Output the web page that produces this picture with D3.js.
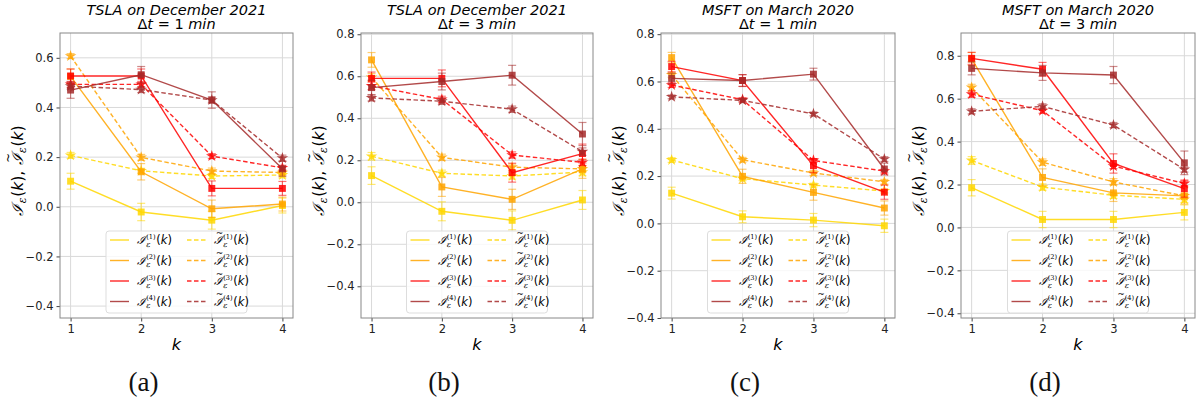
<!DOCTYPE html>
<html><head><meta charset="utf-8">
<script src="https://cdn.jsdelivr.net/npm/d3@7"></script>
<style>body{margin:0;background:#fff}svg{display:block}</style>
</head><body>
<svg id="c" width="1198" height="403"></svg>
<script>
// ---------------- data ----------------
const kValues = [1, 2, 3, 4];
const panelTitles = ["TSLA on December 2021", "TSLA on December 2021", "MSFT on March 2020", "MSFT on March 2020"];
const panelDt = ["1", "3", "1", "3"];
const panelLetters = ["(a)", "(b)", "(c)", "(d)"];
const yTicksA = [-0.4, -0.2, 0.0, 0.2, 0.4, 0.6];
const yTicksB = [-0.4, -0.2, 0.0, 0.2, 0.4, 0.6, 0.8];
const yTicksC = [-0.4, -0.2, 0.0, 0.2, 0.4, 0.6, 0.8];
const yTicksD = [-0.4, -0.2, 0.0, 0.2, 0.4, 0.6, 0.8];
const seriesColors = ["#FFD700", "#FFA500", "#FF0000", "#A52A2A"];

// I_eps^(j)(k), rows j=1..4, columns k=1..4
const tslaDt1_I = [[0.103, -0.021, -0.054, 0.005], [0.525, 0.141, -0.008, 0.011], [0.527, 0.527, 0.074, 0.074], [0.470, 0.532, 0.430, 0.153]];
const tslaDt1_T = [[0.207, 0.145, 0.124, 0.128], [0.607, 0.199, 0.144, 0.138], [0.493, 0.493, 0.204, 0.157], [0.486, 0.472, 0.430, 0.196]];
const tslaDt1_Ierr = [[0.032, 0.035, 0.036, 0.030], [0.030, 0.033, 0.035, 0.028], [0.028, 0.028, 0.030, 0.028], [0.033, 0.033, 0.033, 0.030]];
const tslaDt1_Terr = [[0.012, 0.010, 0.010, 0.012], [0.010, 0.012, 0.012, 0.010], [0.012, 0.012, 0.010, 0.010], [0.012, 0.012, 0.012, 0.012]];

const tslaDt3_I = [[0.127, -0.043, -0.086, 0.011], [0.678, 0.073, 0.014, 0.159], [0.590, 0.590, 0.141, 0.232], [0.546, 0.575, 0.605, 0.325]];
const tslaDt3_T = [[0.219, 0.138, 0.125, 0.144], [0.595, 0.214, 0.167, 0.159], [0.554, 0.490, 0.225, 0.190], [0.497, 0.481, 0.443, 0.241]];
const tslaDt3_Ierr = [[0.042, 0.045, 0.045, 0.045], [0.035, 0.045, 0.048, 0.045], [0.030, 0.040, 0.045, 0.045], [0.035, 0.040, 0.047, 0.055]];
const tslaDt3_Terr = [[0.018, 0.015, 0.015, 0.018], [0.018, 0.015, 0.015, 0.015], [0.018, 0.015, 0.015, 0.015], [0.015, 0.015, 0.015, 0.018]];

const msftDt1_I = [[0.128, 0.028, 0.014, -0.010], [0.701, 0.199, 0.131, 0.065], [0.663, 0.604, 0.244, 0.132], [0.613, 0.604, 0.631, 0.230]];
const msftDt1_T = [[0.268, 0.189, 0.162, 0.137], [0.628, 0.269, 0.213, 0.176], [0.585, 0.523, 0.266, 0.221], [0.535, 0.520, 0.463, 0.272]];
const msftDt1_Ierr = [[0.025, 0.025, 0.028, 0.028], [0.022, 0.030, 0.033, 0.030], [0.022, 0.025, 0.030, 0.030], [0.022, 0.025, 0.025, 0.025]];
const msftDt1_Terr = [[0.010, 0.008, 0.008, 0.008], [0.010, 0.010, 0.010, 0.010], [0.010, 0.008, 0.008, 0.008], [0.008, 0.008, 0.008, 0.010]];

const msftDt3_I = [[0.185, 0.037, 0.037, 0.070], [0.785, 0.233, 0.161, 0.147], [0.788, 0.737, 0.298, 0.181], [0.741, 0.720, 0.710, 0.301]];
const msftDt3_T = [[0.312, 0.188, 0.150, 0.131], [0.652, 0.304, 0.212, 0.147], [0.621, 0.544, 0.286, 0.205], [0.541, 0.564, 0.477, 0.270]];
const msftDt3_Ierr = [[0.038, 0.038, 0.038, 0.035], [0.030, 0.040, 0.040, 0.038], [0.028, 0.032, 0.045, 0.040], [0.030, 0.035, 0.040, 0.055]];
const msftDt3_Terr = [[0.018, 0.015, 0.015, 0.015], [0.015, 0.015, 0.015, 0.012], [0.015, 0.012, 0.012, 0.012], [0.012, 0.012, 0.012, 0.012]];

// ---------------- layout ----------------
const panels = [
  {I: tslaDt1_I, T: tslaDt1_T, Ie: tslaDt1_Ierr, Te: tslaDt1_Terr, ticks: yTicksA, ydom: [-0.448, 0.70], L: 60, R: 293},
  {I: tslaDt3_I, T: tslaDt3_T, Ie: tslaDt3_Ierr, Te: tslaDt3_Terr, ticks: yTicksB, ydom: [-0.551, 0.806], L: 361, R: 593},
  {I: msftDt1_I, T: msftDt1_T, Ie: msftDt1_Ierr, Te: msftDt1_Terr, ticks: yTicksC, ydom: [-0.400, 0.805], L: 661, R: 895},
  {I: msftDt3_I, T: msftDt3_T, Ie: msftDt3_Ierr, Te: msftDt3_Terr, ticks: yTicksD, ydom: [-0.422, 0.906], L: 961, R: 1195}
];
const TOP = 33, BOT = 318;
const svg = d3.select("#c");
const SANS = "DejaVu Sans";

// draws  I~^(sup)_eps (k)  starting at x, baseline y; returns width
function mathTerm(g, x, y, fs, tilde, sup) {
  let cx = x;
  const I = g.append("text").attr("x", cx).attr("y", y)
    .style("font-family", "DejaVu Serif").style("font-style", "italic").style("font-size", fs + "px").text("ℐ");
  const wI = I.node().getComputedTextLength();
  if (tilde) {
    g.append("text").attr("x", cx + wI * 0.62).attr("y", y - fs * 0.72).attr("text-anchor", "middle")
      .style("font-family", SANS).style("font-size", (fs * 0.75) + "px").text("~");
  }
  cx += wI + fs * 0.02;
  const s = g.append("text").attr("x", cx).attr("y", y + fs * 0.22)
    .style("font-family", "DejaVu Serif").style("font-style", "italic").style("font-size", (fs * 0.68) + "px").text("ε");
  let w2 = s.node().getComputedTextLength();
  if (sup) {
    const p = g.append("text").attr("x", cx).attr("y", y - fs * 0.45)
      .style("font-family", "DejaVu Serif").style("font-size", (fs * 0.58) + "px").text("(" + sup + ")");
    w2 = Math.max(w2, p.node().getComputedTextLength());
  }
  cx += w2 + fs * 0.05;
  const k = g.append("text").attr("x", cx).attr("y", y).style("font-family", SANS).style("font-size", fs + "px");
  k.append("tspan").text("(");
  k.append("tspan").style("font-style", "italic").text("k");
  k.append("tspan").text(")");
  cx += k.node().getComputedTextLength();
  return cx - x;
}

panels.forEach((p, pi) => {
  const x = d3.scaleLinear().domain([0.85, 4.15]).range([p.L, p.R]);
  const y = d3.scaleLinear().domain(p.ydom).range([BOT, TOP]);
  const g = svg.append("g");

  // grid
  g.append("g").selectAll("line").data(kValues).join("line")
    .attr("x1", d => x(d)).attr("x2", d => x(d)).attr("y1", TOP).attr("y2", BOT)
    .attr("stroke", "#d9d9d9").attr("stroke-width", 1);
  g.append("g").selectAll("line").data(p.ticks).join("line")
    .attr("x1", p.L).attr("x2", p.R).attr("y1", d => y(d)).attr("y2", d => y(d))
    .attr("stroke", "#d9d9d9").attr("stroke-width", 1);

  // axes
  const xa = g.append("g").attr("transform", `translate(0,${BOT})`)
    .call(d3.axisBottom(x).tickValues(kValues).tickFormat(d3.format("d")).tickSize(3.5).tickPadding(3));
  const ya = g.append("g").attr("transform", `translate(${p.L},0)`)
    .call(d3.axisLeft(y).tickValues(p.ticks).tickFormat(d => d3.format(".1f")(d).replace("-", "\u2212")).tickSize(3.5).tickPadding(3));
  [xa, ya].forEach(a => {
    a.select(".domain").remove();
    a.selectAll("text").style("font-family", SANS).style("font-size", "11.5px").attr("fill", "#222");
    a.selectAll("line").attr("stroke", "#444");
  });
  g.append("rect").attr("x", p.L).attr("y", TOP).attr("width", p.R - p.L).attr("height", BOT - TOP)
    .attr("fill", "none").attr("stroke", "#888").attr("stroke-width", 1);

  const line = d3.line().x((d, i) => x(kValues[i])).y(d => y(d));
  const plot = g.append("g");

  function drawSeries(vals, errs, color, dashed) {
    const sg = plot.append("g");
    sg.append("path").attr("d", line(vals)).attr("fill", "none").attr("stroke", color)
      .attr("stroke-width", 1.4).attr("stroke-opacity", 0.85).attr("stroke-dasharray", dashed ? "4.5,2.5" : null);
    vals.forEach((v, i) => {
      const cx = x(kValues[i]), e = errs[i];
      const eg = sg.append("g").attr("stroke", color).attr("stroke-opacity", 0.55).attr("stroke-width", 1.2);
      eg.append("line").attr("x1", cx).attr("x2", cx).attr("y1", y(v - e)).attr("y2", y(v + e));
      eg.append("line").attr("x1", cx - 4).attr("x2", cx + 4).attr("y1", y(v - e)).attr("y2", y(v - e));
      eg.append("line").attr("x1", cx - 4).attr("x2", cx + 4).attr("y1", y(v + e)).attr("y2", y(v + e));
    });
    sg.selectAll("path.m").data(vals).join("path").attr("class", "m")
      .attr("transform", (d, i) => `translate(${x(kValues[i])},${y(d)})`)
      .attr("d", d3.symbol().type(dashed ? d3.symbolStar : d3.symbolSquare).size(dashed ? 42 : 48)())
      .attr("fill", color).attr("fill-opacity", 0.85);
  }
  for (let j = 0; j < 4; j++) {
    drawSeries(p.I[j], p.Ie[j], seriesColors[j], false);
    drawSeries(p.T[j], p.Te[j], seriesColors[j], true);
  }

  // titles
  const cxA = (p.L + p.R) / 2;
  g.append("text").attr("x", cxA).attr("y", 15).attr("text-anchor", "middle")
    .style("font-family", SANS).style("font-style", "italic").style("font-size", "14.5px").text(panelTitles[pi]);
  const t2 = g.append("text").attr("x", cxA).attr("y", 29).attr("text-anchor", "middle")
    .style("font-family", SANS).style("font-size", "14.5px");
  t2.append("tspan").text("Δ");
  t2.append("tspan").style("font-style", "italic").text("t");
  t2.append("tspan").text(" = " + panelDt[pi] + " ");
  t2.append("tspan").style("font-style", "italic").text("min");

  // x label
  g.append("text").attr("x", cxA).attr("y", 350).attr("text-anchor", "middle")
    .style("font-family", SANS).style("font-style", "italic").style("font-size", "16px").text("k");

  // y label
  const yl = g.append("g");
  const yfs = 15.5;
  let w = mathTerm(yl, 0, 0, yfs, false, null);
  const c = yl.append("text").attr("x", w).attr("y", 0).style("font-family", SANS).style("font-size", yfs + "px").text(",");
  w += c.node().getComputedTextLength() + yfs * 0.35;
  w += mathTerm(yl, w, 0, yfs, true, null);
  yl.attr("transform", `translate(${p.L - 37},${(TOP + BOT) / 2 - 5 + w / 2}) rotate(-90)`);

  // legend
  const lw = 141, lh = 82;
  const lx = cxA - lw / 2, ly = BOT - 5 - lh;
  const lg = g.append("g").attr("transform", `translate(${lx},${ly})`);
  lg.append("rect").attr("width", lw).attr("height", lh).attr("rx", 3)
    .attr("fill", "#fff").attr("fill-opacity", 0.8).attr("stroke", "#ddd");
  for (let col = 0; col < 2; col++) {
    for (let j = 0; j < 4; j++) {
      const ry = 9 + j * 20.5;
      const hx = col === 0 ? 4 : 81;
      lg.append("line").attr("x1", hx).attr("x2", hx + 19).attr("y1", ry).attr("y2", ry)
        .attr("stroke", seriesColors[j]).attr("stroke-width", 1.4).attr("stroke-opacity", 0.85)
        .attr("stroke-dasharray", col === 1 ? "4.5,2.5" : null);
      mathTerm(lg, hx + 27, ry + 4, 11.5, col === 1, String(j + 1));
    }
  }

  // sub-figure letter
  svg.append("text").attr("x", p.L - 33 + (p.R - p.L) / 2).attr("y", 391).attr("text-anchor", "middle")
    .style("font-family", "Liberation Serif").style("font-size", "27px").attr("fill", "#111").text(panelLetters[pi]);
});
</script>
</body></html>
